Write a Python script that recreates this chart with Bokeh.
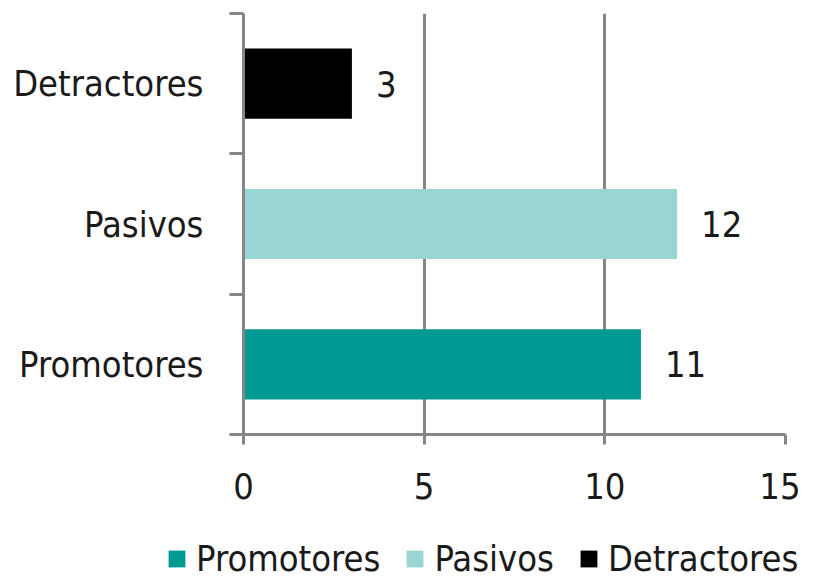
from bokeh.plotting import figure
from bokeh.models import FixedTicker, Legend, ColumnDataSource
from bokeh.embed import file_html
from bokeh.resources import INLINE
from bokeh.core.properties import value

categories = ["Promotores", "Pasivos", "Detractores"]
values = [11, 12, 3]
colors = ["#009a93", "#99d5d3", "#000000"]
x_ticks = [0, 5, 10, 15]

FONT = "'DejaVu Sans Condensed', 'Liberation Sans', sans-serif"
GRAY = "#868686"

p = figure(width=800, height=538, output_backend="svg", toolbar_location=None,
           x_range=(0, 15), y_range=(0, len(categories)),
           min_border_left=243, min_border_right=15, min_border_top=13,
           min_border_bottom=104)
p.outline_line_color = None
p.background_fill_color = "white"
p.border_fill_color = "white"

centers = [i + 0.5 for i in range(len(categories))]
for i, (c, v, col) in enumerate(zip(categories, values, colors)):
    p.hbar(y=[centers[i]], left=0, right=[v], height=0.5, fill_color=col,
           line_color=None)

src = ColumnDataSource(dict(x=values, y=centers, t=[str(v) for v in values]))
p.text(x="x", y="y", text="t", source=src, x_offset=24, text_baseline="middle",
       text_align="left", text_font=value(FONT), text_font_size="36px",
       text_color="#1a1a1a")

# x axis
p.xaxis.ticker = FixedTicker(ticks=x_ticks)
p.xaxis.axis_line_color = GRAY
p.xaxis.axis_line_width = 3
p.xaxis.major_tick_line_color = GRAY
p.xaxis.major_tick_line_width = 3
p.xaxis.major_tick_out = 10
p.xaxis.major_tick_in = 0
p.xaxis.minor_tick_line_color = None
p.xaxis.major_label_text_font = FONT
p.xaxis.major_label_text_font_size = "36px"
p.xaxis.major_label_text_color = "#1a1a1a"
p.xaxis.major_label_standoff = 28

# y axis
p.yaxis.ticker = FixedTicker(ticks=centers, minor_ticks=list(range(len(categories) + 1)))
p.yaxis.major_label_overrides = {c: lab for c, lab in zip(centers, categories)}
p.yaxis.axis_line_color = GRAY
p.yaxis.axis_line_width = 3
p.yaxis.major_tick_line_color = None
p.yaxis.major_tick_out = 0
p.yaxis.major_tick_in = 0
p.yaxis.minor_tick_line_color = GRAY
p.yaxis.minor_tick_line_width = 3
p.yaxis.minor_tick_out = 14
p.yaxis.minor_tick_in = 0
p.yaxis.major_label_text_font = FONT
p.yaxis.major_label_text_font_size = "36px"
p.yaxis.major_label_text_color = "#1a1a1a"
p.yaxis.major_label_standoff = 26

p.xgrid.ticker = FixedTicker(ticks=x_ticks)
p.xgrid.grid_line_color = GRAY
p.xgrid.grid_line_width = 3
p.ygrid.grid_line_color = None

# legend strip (separate root figure, bars sit outside its visible range)
p2 = figure(width=800, height=41, output_backend="svg", toolbar_location=None,
            x_range=(-2, -1), y_range=(0, len(categories)),
            x_axis_location=None, y_axis_location=None,
            min_border_left=0, min_border_right=0, min_border_top=0,
            min_border_bottom=0)
p2.grid.grid_line_color = None
p2.outline_line_color = None
items = []
for i, (c, v, col) in enumerate(zip(categories, values, colors)):
    r = p2.hbar(y=[centers[i]], left=0, right=[v], height=0.5, fill_color=col,
                line_color=None)
    items.append((c, [r]))

legend = Legend(items=items, orientation="horizontal", location=(166, 0),
                glyph_width=21, glyph_height=21, label_standoff=9, spacing=24,
                label_text_font=FONT, label_text_font_size="36px",
                label_text_color="#1a1a1a", border_line_color=None,
                background_fill_alpha=0, padding=0, margin=0)
p2.add_layout(legend, "center")

open("out.html", "w").write(file_html([p, p2], INLINE))
